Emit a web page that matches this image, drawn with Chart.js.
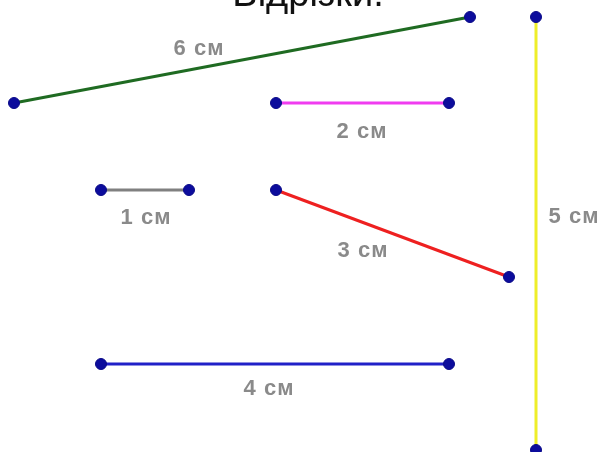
<!DOCTYPE html>
<html>
<head>
<meta charset="utf-8">
<script src="https://cdn.jsdelivr.net/npm/chart.js@4"></script>
<style>
html,body{margin:0;padding:0;background:#fff;}
canvas{display:block;}
</style>
</head>
<body>
<canvas id="c" width="604" height="452"></canvas>
<script>
// Segments (coordinate system: 604 x 452 sheet, y downwards)
const segmentNames = ["6 см", "5 см", "2 см", "1 см", "3 см", "4 см"];
const startX = [14, 536, 276, 101, 276, 101];
const startY = [103, 17, 103, 190, 190, 364];
const endX   = [470, 536, 449, 189, 509, 449];
const endY   = [17, 450, 103, 190, 277, 364];
const segmentColors = ["#1f6b22", "#eeee2a", "#f03cf0", "#808080", "#ee2020", "#2020c8"];
// Label anchors
const labelX = [198, 573, 361, 145, 362, 268];
const labelY = [49, 217, 132, 218, 251, 389];
const titleText = "Відрізки.";

const datasets = segmentNames.map((n, i) => ({
  label: n,
  data: [{x: startX[i], y: startY[i]}, {x: endX[i], y: endY[i]}],
  borderColor: segmentColors[i],
  borderWidth: 3,
  pointRadius: 5.5,
  pointBackgroundColor: "#0c0c9c",
  pointBorderColor: "#0a0a88",
  pointBorderWidth: 1,
  showLine: true,
  clip: false
}));

const textPlugin = {
  id: "texts",
  afterDatasetsDraw(chart) {
    const ctx = chart.ctx;
    const xs = chart.scales.x, ys = chart.scales.y;
    ctx.save();
    ctx.fillStyle = "#8a8a8a";
    ctx.font = "bold 22px 'Liberation Sans', Arial, sans-serif";
    try { ctx.letterSpacing = "1px"; } catch (e) {}
    ctx.textAlign = "center";
    ctx.textBaseline = "middle";
    segmentNames.forEach((n, i) => {
      ctx.fillText(n, xs.getPixelForValue(labelX[i]) + 1, ys.getPixelForValue(labelY[i]));
    });
    try { ctx.letterSpacing = "0px"; } catch (e) {}
    ctx.fillStyle = "#111";
    ctx.font = "38px 'Liberation Sans', Arial, sans-serif";
    ctx.textBaseline = "alphabetic";
    ctx.fillText(titleText, 308, 6);
    ctx.restore();
  }
};

new Chart(document.getElementById("c"), {
  type: "scatter",
  data: { datasets },
  options: {
    responsive: false,
    animation: false,
    layout: { padding: 0, autoPadding: false },
    plugins: { legend: { display: false }, tooltip: { enabled: false }, title: { display: false } },
    scales: {
      x: { type: "linear", min: 0, max: 604, display: false },
      y: { type: "linear", min: 0, max: 452, reverse: true, display: false }
    }
  },
  plugins: [textPlugin]
});
</script>
</body>
</html>
